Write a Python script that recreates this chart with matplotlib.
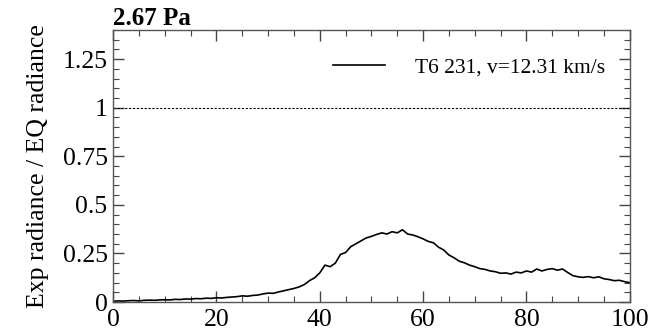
import matplotlib
matplotlib.use("Agg")
import matplotlib.pyplot as plt
from matplotlib.ticker import MultipleLocator, FixedLocator

plt.rcParams['font.family'] = ['Liberation Serif', 'DejaVu Serif']
plt.rcParams['mathtext.fontset'] = 'stix'

title = "2.67 Pa"
ylabel = "Exp radiance / EQ radiance"
series_label = "T6 231, v=12.31 km/s"

x = list(range(0, 101))
ratio = [
    0.004, 0.006, 0.005, 0.007, 0.008, 0.006, 0.009, 0.010, 0.009, 0.011,
    0.012, 0.011, 0.014, 0.013, 0.016, 0.015, 0.018, 0.017, 0.020, 0.019,
    0.022, 0.021, 0.024, 0.026, 0.028, 0.032, 0.030, 0.034, 0.036, 0.042,
    0.046, 0.045, 0.052, 0.058, 0.064, 0.070, 0.078, 0.090, 0.110, 0.125,
    0.150, 0.190, 0.182, 0.200, 0.245, 0.255, 0.285, 0.300, 0.315, 0.330,
    0.338, 0.348, 0.356, 0.350, 0.362, 0.356, 0.372, 0.350, 0.345, 0.336,
    0.325, 0.312, 0.305, 0.282, 0.268, 0.242, 0.228, 0.210, 0.202, 0.190,
    0.182, 0.172, 0.168, 0.160, 0.156, 0.148, 0.150, 0.144, 0.154, 0.150,
    0.160, 0.154, 0.170, 0.160, 0.168, 0.172, 0.164, 0.170, 0.152, 0.136,
    0.130, 0.127, 0.131, 0.125, 0.130, 0.120, 0.116, 0.110, 0.112, 0.105,
    0.100,
]
ref_level = 1.0

fig = plt.figure(figsize=(6.58, 3.36), dpi=100)
ax = fig.add_axes([0.172, 0.101, 0.785, 0.810])

ax.plot(x, ratio, color='black', lw=1.2, label=series_label)
ax.axhline(ref_level, color='black', lw=0.8, ls=(0, (2, 1.5)))

ax.set_xlim(0, 100)
ax.set_ylim(0, 1.4)
ax.xaxis.set_major_locator(MultipleLocator(20))
ax.xaxis.set_minor_locator(MultipleLocator(5))
ax.yaxis.set_major_locator(FixedLocator([0, 0.25, 0.5, 0.75, 1.0, 1.25]))
ax.yaxis.set_minor_locator(MultipleLocator(0.05))
ax.set_yticklabels(['0', '0.25', '0.5', '0.75', '1', '1.25'])

ax.tick_params(which='both', direction='in', top=True, right=True,
               labelsize=18.5, color='#444444')
ax.tick_params(which='major', length=8, width=1)
ax.tick_params(which='minor', length=4.5, width=0.8)
ax.tick_params(axis='x', pad=5)
ax.tick_params(axis='y', pad=4)
for s in ax.spines.values():
    s.set_color('#555555')
    s.set_linewidth(1)

ax.set_ylabel(ylabel, fontsize=18.5, labelpad=10)
ax.set_title(title, loc='left', fontsize=18, fontweight='bold', pad=1)

leg = ax.legend(loc='upper right', frameon=False, fontsize=15.5,
                handlelength=2.4, handletextpad=1.4,
                bbox_to_anchor=(0.99, 0.97))

fig.savefig('out.png', dpi=100)
